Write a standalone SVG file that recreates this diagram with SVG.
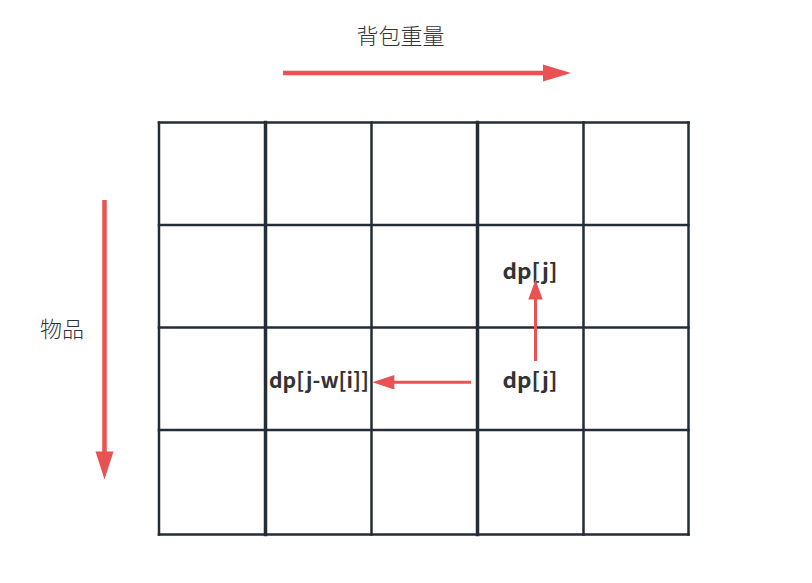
<svg xmlns="http://www.w3.org/2000/svg" width="812" height="583" viewBox="0 0 812 583">
<style>
.grid line{stroke:#242c35;stroke-width:2.5;stroke-linecap:square}
.grid line.thick{stroke-width:3.5}
.conn line{stroke:#e85252}
.head{fill:#e85252}
.lbl{font-family:"Noto Sans CJK SC","Noto Sans",sans-serif;font-size:22px;font-weight:300;fill:#333}
.cell{font-family:"Noto Sans CJK SC","Noto Sans",sans-serif;font-size:21px;font-weight:bold;fill:#333}
</style>
<rect width="812" height="583" fill="#fff"/>
<g id="grid" class="grid">
<line x1="159" y1="122.5" x2="688.5" y2="122.5"/>
<line x1="159" y1="225" x2="688.5" y2="225"/>
<line x1="159" y1="327.5" x2="688.5" y2="327.5"/>
<line x1="159" y1="430" x2="688.5" y2="430"/>
<line x1="159" y1="534.5" x2="688.5" y2="534.5"/>
<line x1="159" y1="122.5" x2="159" y2="534.5"/>
<line class="thick" x1="265.5" y1="122.5" x2="265.5" y2="534.5"/>
<line x1="371.5" y1="122.5" x2="371.5" y2="534.5"/>
<line class="thick" x1="477.5" y1="122.5" x2="477.5" y2="534.5"/>
<line x1="583.5" y1="122.5" x2="583.5" y2="534.5"/>
<line x1="688.5" y1="122.5" x2="688.5" y2="534.5"/>
</g>
<g id="label-weight"><text class="lbl" x="400.5" y="44" text-anchor="middle">背包重量</text></g>
<g id="label-items"><text class="lbl" x="62" y="337" text-anchor="middle">物品</text></g>
<g id="cell-dpj-top"><text class="cell" x="530" y="279" text-anchor="middle" textLength="55" lengthAdjust="spacingAndGlyphs">dp[j]</text></g>
<g id="cell-dpj-bottom"><text class="cell" x="530" y="388" text-anchor="middle" textLength="55" lengthAdjust="spacingAndGlyphs">dp[j]</text></g>
<g id="cell-dpjw"><text class="cell" x="319" y="388" text-anchor="middle" textLength="100" lengthAdjust="spacingAndGlyphs">dp[j-w[i]]</text></g>
<g id="connectors" class="conn">
<line x1="283" y1="73" x2="545" y2="73" stroke-width="4.5"/>
<polygon class="head" points="543,64.5 571,73 543,81.5"/>
<line x1="104.5" y1="200" x2="104.5" y2="453" stroke-width="4.5"/>
<polygon class="head" points="95.5,451.5 113.5,451.5 104.5,479.5"/>
<line x1="535.5" y1="361" x2="535.5" y2="298" stroke-width="3"/>
<polygon class="head" points="528.3,299.5 542.7,299.5 535.5,279.5"/>
<line x1="471" y1="382.2" x2="393" y2="382.2" stroke-width="3"/>
<polygon class="head" points="394.3,375 394.3,389.4 372.3,382.2"/>
</g>
</svg>
